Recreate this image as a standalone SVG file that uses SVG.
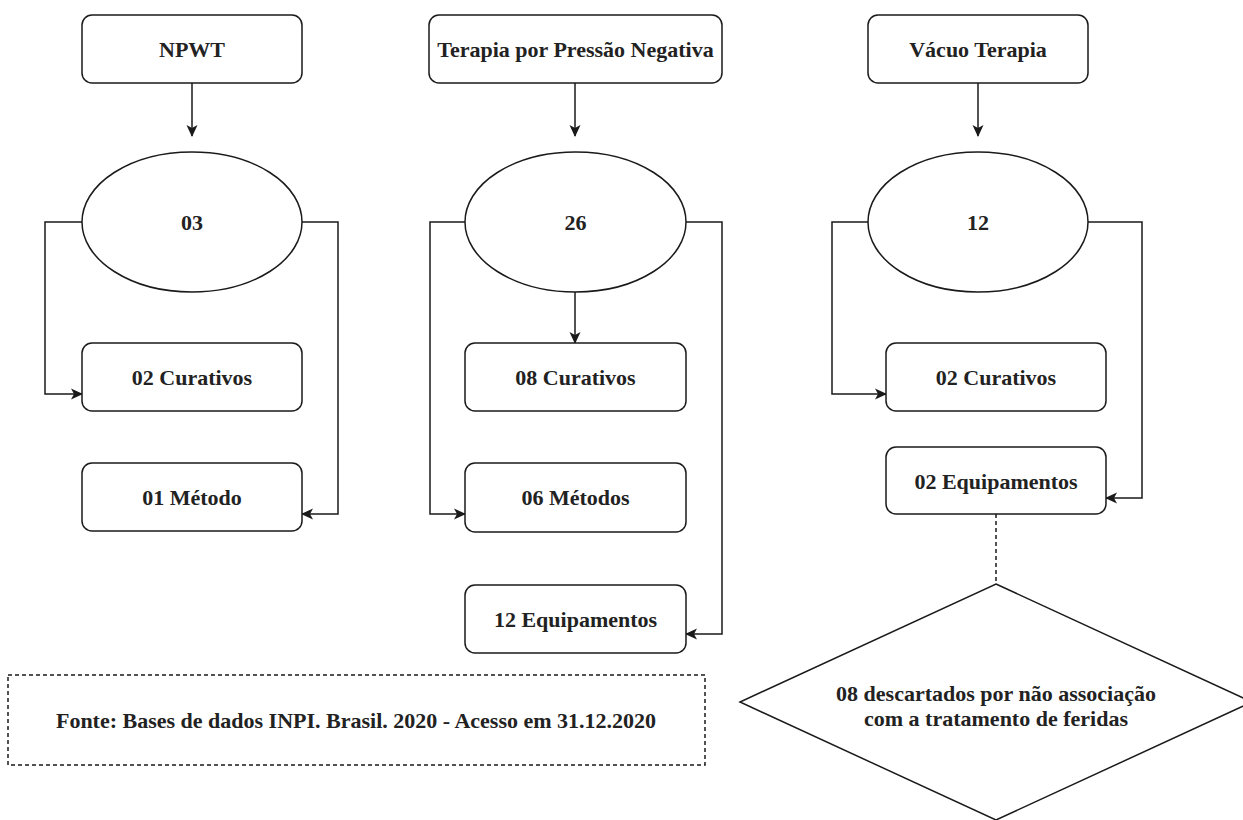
<svg xmlns="http://www.w3.org/2000/svg" width="1243" height="820" viewBox="0 0 1243 820">
  <style>
    .box { fill: #ffffff; stroke: #1a1a1a; stroke-width: 1.5; }
    .edge { fill: none; stroke: #1a1a1a; stroke-width: 1.5; }
    .dash { fill: none; stroke: #1a1a1a; stroke-width: 1.5; stroke-dasharray: 4 3; }
    .lbl { font-family: 'Liberation Serif', 'DejaVu Serif', 'Times New Roman', serif; font-weight: bold; font-size: 22px; fill: #222222; text-anchor: middle; }
  </style>
  <defs>
    <marker id="arrow" viewBox="0 0 12 12" refX="11" refY="6" markerWidth="12" markerHeight="12" markerUnits="userSpaceOnUse" orient="auto">
      <path d="M0,0.5 L12,6 L0,11.5 L3,6 Z" fill="#1a1a1a"/>
    </marker>
  </defs>
  <rect width="1243" height="820" fill="#ffffff"/>

  <!-- connectors -->
  <g id="connectors">
    <!-- column 1 -->
    <path class="edge" d="M192,83 V136" marker-end="url(#arrow)"/>
    <path class="edge" d="M82,222 H45 V394 H82" marker-end="url(#arrow)"/>
    <path class="edge" d="M302,222 H338 V514 H302" marker-end="url(#arrow)"/>
    <!-- column 2 -->
    <path class="edge" d="M575,83 V136" marker-end="url(#arrow)"/>
    <path class="edge" d="M575,292 V343" marker-end="url(#arrow)"/>
    <path class="edge" d="M465,222 H430 V514 H465" marker-end="url(#arrow)"/>
    <path class="edge" d="M686,222 H722 V634 H686" marker-end="url(#arrow)"/>
    <!-- column 3 -->
    <path class="edge" d="M978,83 V136" marker-end="url(#arrow)"/>
    <path class="edge" d="M868,222 H832 V394 H886" marker-end="url(#arrow)"/>
    <path class="edge" d="M1088,222 H1142 V498 H1106" marker-end="url(#arrow)"/>
    <path class="dash" d="M996,514 V584"/>
  </g>

  <!-- column 1: NPWT -->
  <g id="npwt">
    <rect class="box" x="82" y="15" width="220" height="68" rx="10"/>
    <text class="lbl" x="192" y="56.5">NPWT</text>
  </g>
  <g id="npwt-total">
    <ellipse class="box" cx="192" cy="222" rx="110" ry="70"/>
    <text class="lbl" x="192" y="229.5">03</text>
  </g>
  <g id="npwt-curativos">
    <rect class="box" x="82" y="343" width="220" height="68" rx="10"/>
    <text class="lbl" x="192" y="384.5">02 Curativos</text>
  </g>
  <g id="npwt-metodo">
    <rect class="box" x="82" y="463" width="220" height="68" rx="10"/>
    <text class="lbl" x="192" y="504.5">01 Método</text>
  </g>

  <!-- column 2: Terapia por Pressão Negativa -->
  <g id="tpn">
    <rect class="box" x="429" y="15" width="293" height="68" rx="10"/>
    <text class="lbl" x="575.5" y="56.5">Terapia por Pressão Negativa</text>
  </g>
  <g id="tpn-total">
    <ellipse class="box" cx="575.5" cy="222" rx="110.5" ry="70"/>
    <text class="lbl" x="575.5" y="229.5">26</text>
  </g>
  <g id="tpn-curativos">
    <rect class="box" x="465" y="343" width="221" height="68" rx="10"/>
    <text class="lbl" x="575.5" y="384.5">08 Curativos</text>
  </g>
  <g id="tpn-metodos">
    <rect class="box" x="465" y="463" width="221" height="69" rx="10"/>
    <text class="lbl" x="575.5" y="504.5">06 Métodos</text>
  </g>
  <g id="tpn-equipamentos">
    <rect class="box" x="465" y="585" width="221" height="68" rx="10"/>
    <text class="lbl" x="575.5" y="626.5">12 Equipamentos</text>
  </g>

  <!-- column 3: Vácuo Terapia -->
  <g id="vacuo">
    <rect class="box" x="868" y="15" width="220" height="68" rx="10"/>
    <text class="lbl" x="978" y="56.5">Vácuo Terapia</text>
  </g>
  <g id="vacuo-total">
    <ellipse class="box" cx="978" cy="222" rx="110" ry="70"/>
    <text class="lbl" x="978" y="229.5">12</text>
  </g>
  <g id="vacuo-curativos">
    <rect class="box" x="886" y="343" width="220" height="68" rx="10"/>
    <text class="lbl" x="996" y="384.5">02 Curativos</text>
  </g>
  <g id="vacuo-equipamentos">
    <rect class="box" x="886" y="447" width="220" height="67" rx="10"/>
    <text class="lbl" x="996" y="488.5">02 Equipamentos</text>
  </g>
  <g id="descartados">
    <polygon class="box" points="996,584 1252,702 996,820 740,702"/>
    <text class="lbl" x="996" y="700.5">08 descartados por não associação</text>
    <text class="lbl" x="996" y="725.5">com a tratamento de feridas</text>
  </g>

  <!-- source note -->
  <g id="fonte">
    <rect class="dash" x="8" y="675" width="697" height="90"/>
    <text class="lbl" x="356" y="727.5">Fonte: Bases de dados INPI. Brasil. 2020 - Acesso em 31.12.2020</text>
  </g>
</svg>
